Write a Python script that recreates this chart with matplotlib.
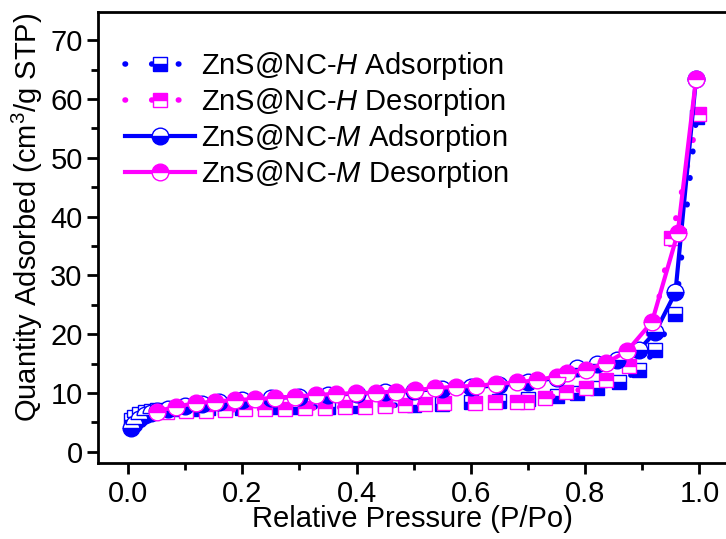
import numpy as np
import matplotlib
matplotlib.use('Agg')
import matplotlib.pyplot as plt
from matplotlib.ticker import MultipleLocator

plt.rcParams['font.family'] = ['Liberation Sans', 'DejaVu Sans']
plt.rcParams['mathtext.fontset'] = 'custom'
plt.rcParams['mathtext.rm'] = 'Liberation Sans'
plt.rcParams['mathtext.it'] = 'Liberation Sans:italic'

# Isotherm data
hAdsX = [0.005, 0.01, 0.02, 0.03, 0.04, 0.05, 0.08, 0.11, 0.14, 0.17, 0.2, 0.25,
         0.3, 0.35, 0.4, 0.45, 0.5, 0.55, 0.6, 0.65, 0.7, 0.75, 0.785, 0.82,
         0.86, 0.895, 0.923, 0.958, 0.995]
hAdsY = [5.4, 6.0, 6.5, 6.8, 7.0, 7.1, 7.2, 7.3, 7.4, 7.4, 7.5, 7.6,
         7.6, 7.7, 7.8, 7.9, 8.0, 8.2, 8.4, 8.6, 8.9, 9.5, 10.0, 10.8,
         11.9, 13.9, 17.3, 23.5, 57.0]

hDesX = [0.999, 0.951, 0.918, 0.876, 0.837, 0.802, 0.767, 0.73, 0.698, 0.681, 0.643,
         0.608, 0.553, 0.52, 0.485, 0.45, 0.415, 0.38, 0.345, 0.31, 0.275,
         0.24, 0.205, 0.17, 0.137, 0.102, 0.068]
hDesY = [57.5, 36.3, 21.0, 14.6, 12.2, 10.8, 10.1, 9.1, 8.55, 8.55, 8.4,
         8.3, 8.25, 8.1, 7.9, 7.8, 7.7, 7.6, 7.5, 7.4, 7.3,
         7.3, 7.2, 7.1, 7.0, 6.9, 6.8]

mAdsX = [0.005, 0.01, 0.02, 0.03, 0.04, 0.05, 0.07, 0.1, 0.13, 0.16, 0.2, 0.25,
         0.3, 0.35, 0.4, 0.45, 0.5, 0.55, 0.6, 0.65, 0.7, 0.75, 0.786, 0.821,
         0.856, 0.894, 0.923, 0.958, 0.994]
mAdsY = [4.0, 4.8, 5.6, 6.2, 6.6, 6.9, 7.3, 7.8, 8.2, 8.5, 8.8, 9.1,
         9.4, 9.7, 9.9, 10.1, 10.4, 10.7, 11.0, 11.3, 11.8, 12.6, 14.2, 14.9,
         15.6, 17.3, 20.4, 27.1, 63.4]

mDesX = [0.994, 0.962, 0.917, 0.874, 0.837, 0.802, 0.768, 0.75, 0.715, 0.681,
         0.644, 0.609, 0.574, 0.538, 0.503, 0.469, 0.434, 0.399, 0.364, 0.329,
         0.293, 0.258, 0.222, 0.188, 0.153, 0.119, 0.084, 0.05]
mDesY = [63.4, 37.2, 22.1, 17.2, 15.1, 14.0, 13.4, 12.8, 12.2, 11.8,
         11.55, 11.2, 11.1, 10.8, 10.53, 10.25, 10.07, 9.97, 9.85, 9.68,
         9.4, 9.17, 8.95, 8.83, 8.55, 8.27, 7.7, 6.85]

xTicks = [0.0, 0.2, 0.4, 0.6, 0.8, 1.0]
xTickLabels = ['0.0', '0.2', '0.4', '0.6', '0.8', '1.0']

blue = '#0000ff'
magenta = '#ff00ff'
dotStyle = (0, (0.1, 4.7))

fig = plt.figure(figsize=(7.26, 5.39), dpi=100)
ax = fig.add_axes([98 / 726, 76 / 539, 650 / 726, 451 / 539])

ax.plot(hAdsX, hAdsY, color=blue, lw=4, ls=dotStyle, dash_capstyle='round',
        marker='s', ms=9.5, fillstyle='bottom', markerfacecoloralt='white',
        mec=blue, mew=1, label='ZnS@NC-$\\mathit{H}$ Adsorption')
ax.plot(hDesX, hDesY, color=magenta, lw=4, ls=dotStyle, dash_capstyle='round',
        marker='s', ms=9.5, fillstyle='top', markerfacecoloralt='white',
        mec=magenta, mew=1, label='ZnS@NC-$\\mathit{H}$ Desorption')
ax.plot(mAdsX, mAdsY, color=blue, lw=3, ls='-',
        marker='o', ms=12, fillstyle='bottom', markerfacecoloralt='white',
        mec=blue, mew=1, label='ZnS@NC-$\\mathit{M}$ Adsorption')
ax.plot(mDesX, mDesY, color=magenta, lw=3, ls='-',
        marker='o', ms=12, fillstyle='top', markerfacecoloralt='white',
        mec=magenta, mew=1, label='ZnS@NC-$\\mathit{M}$ Desorption')

ax.set_xlim(-0.0525, 1.085)
ax.set_ylim(-1.9, 74.8)
ax.set_xticks(xTicks)
ax.set_xticklabels(xTickLabels)
ax.xaxis.set_minor_locator(MultipleLocator(0.1))
ax.yaxis.set_major_locator(MultipleLocator(10))
ax.yaxis.set_minor_locator(MultipleLocator(5))

for s in ax.spines.values():
    s.set_linewidth(2)
ax.tick_params(which='major', length=8, width=2, labelsize=21, pad=3)
ax.tick_params(axis='x', which='major', pad=4)
ax.tick_params(which='minor', length=5, width=2)

ax.set_xlabel('Relative Pressure (P/Po)', fontsize=21)
ax.set_ylabel('Quantity Adsorbed (cm$^3$/g STP)', fontsize=21)
ax.xaxis.set_label_coords(314 / 650, -42 / 451)
ax.yaxis.set_label_coords(-53 / 650, 246 / 451)

ax.legend(loc='upper left', bbox_to_anchor=(0.0235, 0.942), frameon=False,
          fontsize=21, handlelength=2.4, handletextpad=0.2, labelspacing=0.14,
          borderaxespad=0)

plt.savefig('out.png', dpi=100)
